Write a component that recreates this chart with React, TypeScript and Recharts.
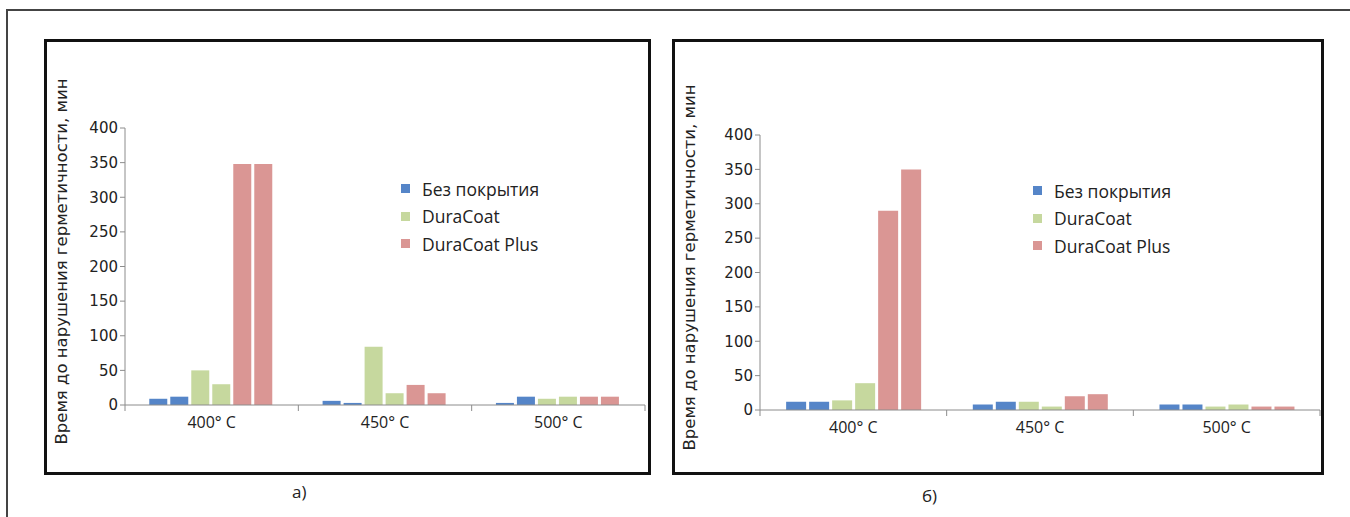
import React from 'react';
import { BarChart, Bar, XAxis, YAxis } from 'recharts';

// Categories (temperature)
const categories = ['400° C', '450° C', '500° C'];

// Panel а) – two specimens per coating
const aBare1 = [9, 6, 3];
const aBare2 = [12, 3, 12];
const aDura1 = [50, 84, 9];
const aDura2 = [30, 17, 12];
const aPlus1 = [348, 29, 12];
const aPlus2 = [348, 17, 12];

// Panel б)
const bBare1 = [12, 8, 8];
const bBare2 = [12, 12, 8];
const bDura1 = [14, 12, 5];
const bDura2 = [39, 5, 8];
const bPlus1 = [290, 20, 5];
const bPlus2 = [350, 23, 5];

const yTicks = [0, 50, 100, 150, 200, 250, 300, 350, 400];

const seriesNames = ['Без покрытия', 'DuraCoat', 'DuraCoat Plus'];
const seriesColors = ['#5585c8', '#c6d89e', '#da9694'];

const yTitle = 'Время до нарушения герметичности, мин';

const buildRows = (sets: number[][]) =>
    categories.map((cat, i) => ({
        cat,
        s1: sets[0][i],
        s2: sets[1][i],
        s3: sets[2][i],
        s4: sets[3][i],
        s5: sets[4][i],
        s6: sets[5][i],
    }));

const dataA = buildRows([aBare1, aBare2, aDura1, aDura2, aPlus1, aPlus2]);
const dataB = buildRows([bBare1, bBare2, bDura1, bDura2, bPlus1, bPlus2]);

const axisGray = '#8c8c8c';
const textFont = '"Open Sans", sans-serif';
const tickFont = '"DejaVu Sans", sans-serif';

// category label plus Excel-style tick marks between the categories
const CatTick = (props: any) => {
    const { x, y, payload, index, visibleTicksCount } = props;
    const half = payload.offset ?? 0;
    const last = index === visibleTicksCount - 1;
    return (
        <g>
            <line x1={x - half} x2={x - half} y1={y} y2={y + 6} stroke={axisGray} />
            {last && <line x1={x + half} x2={x + half} y1={y} y2={y + 6} stroke={axisGray} />}
            <text x={x} y={y + 12} dy="0.71em" textAnchor="middle" fill="#222" fontSize={16} fontFamily={textFont}>
                {payload.value}
            </text>
        </g>
    );
};

const LegendBox: React.FC<{ left: number; top: number }> = ({ left, top }) => (
    <div style={{ position: 'absolute', left, top, fontFamily: textFont, fontSize: 17.5, color: '#222' }}>
        {seriesNames.map((n, i) => (
            <div key={n} style={{ display: 'flex', alignItems: 'center', height: 27.5 }}>
                <span style={{ display: 'inline-block', width: 9, height: 9, background: seriesColors[i], marginRight: 12 }} />
                <span>{n}</span>
            </div>
        ))}
    </div>
);

interface PanelProps {
    data: any[];
    width: number;
    height: number;
    yAxisWidth: number;
    top: number;
    right: number;
    catHeight: number;
    titleX: number;
}

const Panel: React.FC<PanelProps> = ({ data, width, height, yAxisWidth, top, right, catHeight, titleX }) => (
    <BarChart
        width={width}
        height={height}
        data={data}
        margin={{ top, right, left: 0, bottom: 0 }}
        barGap={3}
        barCategoryGap="14%"
    >
        <XAxis
            dataKey="cat"
            height={catHeight}
            interval={0}
            axisLine={{ stroke: axisGray }}
            tickLine={false}
            tickSize={0}
            tickMargin={0}
            tick={<CatTick />}
        />
        <YAxis
            width={yAxisWidth}
            domain={[0, 400]}
            ticks={yTicks}
            interval={0}
            tickSize={5}
            axisLine={{ stroke: axisGray }}
            tickLine={{ stroke: axisGray }}
            tick={{ fill: '#222', fontSize: 15, fontFamily: tickFont }}
            label={(props: any) => {
                const vb = props.viewBox;
                const cy = vb.y + vb.height / 2 - 5;
                return (
                    <text
                        x={titleX}
                        y={cy}
                        transform={`rotate(-90, ${titleX}, ${cy})`}
                        textAnchor="middle"
                        dominantBaseline="central"
                        fill="#222"
                        fontSize={16.5}
                        fontFamily={tickFont}
                    >
                        {yTitle}
                    </text>
                );
            }}
        />
        <Bar dataKey="s1" name={seriesNames[0]} fill={seriesColors[0]} isAnimationActive={false} />
        <Bar dataKey="s2" fill={seriesColors[0]} legendType="none" isAnimationActive={false} />
        <Bar dataKey="s3" name={seriesNames[1]} fill={seriesColors[1]} isAnimationActive={false} />
        <Bar dataKey="s4" fill={seriesColors[1]} legendType="none" isAnimationActive={false} />
        <Bar dataKey="s5" name={seriesNames[2]} fill={seriesColors[2]} isAnimationActive={false} />
        <Bar dataKey="s6" fill={seriesColors[2]} legendType="none" isAnimationActive={false} />
    </BarChart>
);

const boxStyle: React.CSSProperties = {
    position: 'absolute',
    border: '3px solid #111',
    boxSizing: 'border-box',
};

export default function App() {
    return (
        <div style={{ position: 'absolute', left: 0, top: 0, width: 1350, height: 517, background: '#fff', overflow: 'hidden' }}>
            {/* outer frame: only top and left edges are visible */}
            <div style={{ position: 'absolute', left: 6, top: 9, width: 1400, height: 600, borderTop: '2px solid #444', borderLeft: '2px solid #444' }} />

            {/* panel а) */}
            <div style={{ ...boxStyle, left: 44, top: 39, width: 607, height: 436 }} />
            <div style={{ position: 'absolute', left: 45, top: 40 }}>
                <Panel data={dataA} width={604} height={433} yAxisWidth={80} top={88} right={4} catHeight={68} titleX={16} />
            </div>
            <LegendBox left={401} top={175} />
            <div style={{ position: 'absolute', left: 292, top: 480, fontFamily: textFont, fontSize: 17, color: '#222' }}>а)</div>

            {/* panel б) */}
            <div style={{ ...boxStyle, left: 672, top: 39, width: 652, height: 436 }} />
            <div style={{ position: 'absolute', left: 673, top: 40 }}>
                <Panel data={dataB} width={650} height={433} yAxisWidth={87} top={95} right={3} catHeight={63} titleX={16} />
            </div>
            <LegendBox left={1033} top={177} />
            <div style={{ position: 'absolute', left: 922, top: 484, fontFamily: textFont, fontSize: 17, color: '#222' }}>б)</div>
        </div>
    );
}
